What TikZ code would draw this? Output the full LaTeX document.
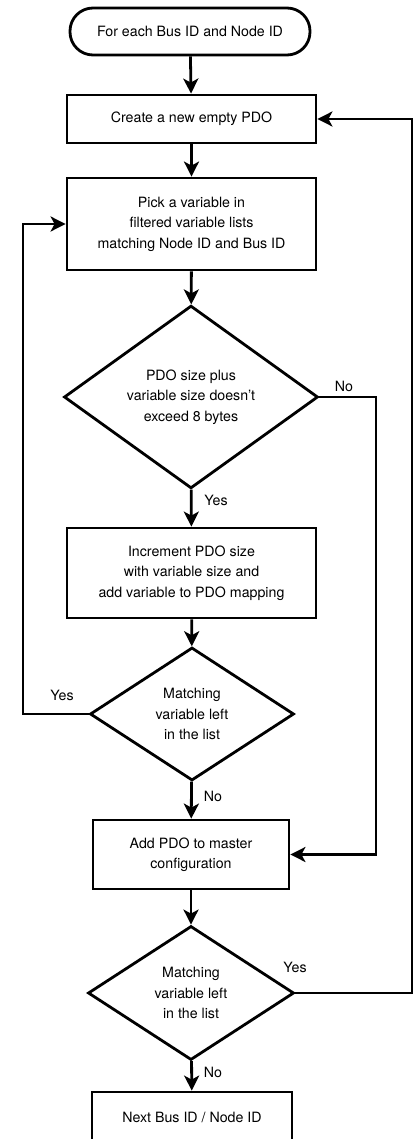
\documentclass[tikz,border=0pt]{standalone}
\usepackage{fontspec}
\setmainfont{TeX Gyre Heros}
\usetikzlibrary{shapes.geometric,arrows.meta}
\begin{document}
\begin{tikzpicture}[x=1pt,y=-1pt,
  every node/.style={font=\fontsize{14.2}{20.5}\selectfont},
  proc/.style={draw, line width=2.8pt, rectangle, align=center, inner sep=0pt},
  term/.style={proc, rounded corners=23pt},
  decision/.style={draw, line width=2.8pt, diamond, align=center, inner sep=0pt},
  flow/.style={line width=2.8pt, -{Stealth[length=15pt,width=15pt,inset=4pt]}},
  tag/.style={inner sep=0pt}
]
\useasboundingbox (0,0) rectangle (414,1139);
\clip (0,0) rectangle (414,1139);

% steps of the flow chart
\node[term, minimum width=240pt, minimum height=47pt] (start) at (190,31.5) {For each Bus ID and Node ID};
\node[proc, minimum width=249pt, minimum height=48pt] (newpdo) at (191.5,119) {Create a new empty PDO};
\node[proc, minimum width=249pt, minimum height=92pt] (pick) at (191.5,224) {Pick a variable in\\filtered variable lists\\matching Node ID and Bus ID};
\node[decision, minimum width=254pt, minimum height=164pt] (fits) at (191,397) {PDO size plus\\variable size doesn't\\exceed 8 bytes};
\node[proc, minimum width=249pt, minimum height=90pt] (incr) at (191.5,573) {Increment PDO size\\with variable size and\\add variable to PDO mapping};
\node[decision, minimum width=204pt, minimum height=133pt] (left1) at (192,714) {Matching\\variable left\\in the list};
\node[proc, minimum width=196pt, minimum height=69pt] (addpdo) at (191,854.5) {Add PDO to master\\configuration};
\node[decision, minimum width=206pt, minimum height=134pt] (left2) at (191,993) {Matching\\variable left\\in the list};
\node[proc, minimum width=200pt, minimum height=50pt] (next) at (192,1117) {Next Bus ID / Node ID};

% turning points of the loop-back lines
\coordinate (noturn) at (376,397);
\coordinate (yesturn) at (23,714);
\coordinate (outerturn) at (412,993);

% connectors
\draw[flow] (start) -- (newpdo);
\draw[flow] (newpdo) -- (pick);
\draw[flow] (pick) -- (fits);
\draw[flow] (fits) -- (incr);
\draw[flow] (fits.east) -- (noturn) |- (addpdo.east);
\draw[flow] (incr) -- (left1);
\draw[flow] (left1.west) -- (yesturn) |- (pick.west);
\draw[flow] (left1) -- (addpdo);
\draw[flow] (addpdo) -- (left2);
\draw[flow] (left2.east) -- (outerturn) |- (newpdo.east);
\draw[flow] (left2) -- (next);

% branch labels
\node[tag] (l1) at (344,386) {No};
\node[tag] (l2) at (216,500) {Yes};
\node[tag] (l3) at (62,695) {Yes};
\node[tag] (l4) at (213,796) {No};
\node[tag] (l5) at (295,967) {Yes};
\node[tag] (l6) at (213,1072) {No};
\end{tikzpicture}
\end{document}
